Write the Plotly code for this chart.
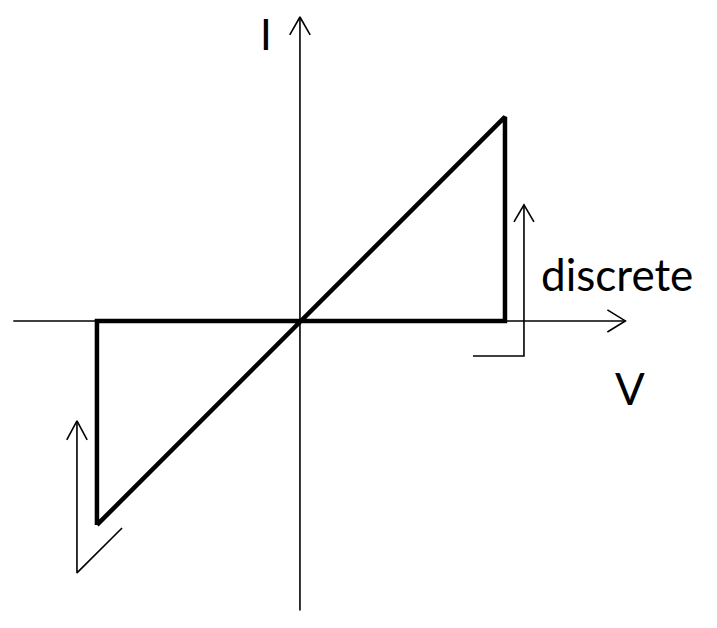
import plotly.graph_objects as go

# I-V characteristic (normalised units)
# thick path: diagonal, right drop, zero line, left drop
v_path = [-1.0, 1.0, 1.0, -1.0, -1.0]
i_path = [-1.0, 1.0, 0.0, 0.0, -1.0]

axis_labels = ["V", "I"]
note_label = "discrete"

# axis extents
x_axis_min, x_axis_max = -1.41, 1.59
y_axis_min, y_axis_max = -1.42, 1.49
head_len, head_half = 0.088, 0.054

fig = go.Figure()

def line(xs, ys, w):
    fig.add_trace(go.Scatter(x=xs, y=ys, mode="lines",
                             line=dict(color="black", width=w),
                             hoverinfo="skip", showlegend=False))

# axes
line([x_axis_min, x_axis_max], [0, 0], 1.6)
line([x_axis_max - head_len, x_axis_max, x_axis_max - head_len],
     [head_half, 0, -head_half], 1.6)
line([-0.005, -0.005], [y_axis_min, y_axis_max], 1.6)
line([-0.005 - 0.05, -0.005, -0.005 + 0.05],
     [y_axis_max - head_len, y_axis_max, y_axis_max - head_len], 1.6)

# characteristic
line(v_path, i_path, 4.5)

# right annotation arrow
rx, rtop, rbot, rleft = 1.093, 0.569, -0.172, 0.843
line([rleft, rx, rx], [rbot, rbot, rtop], 1.6)
line([rx - 0.049, rx, rx + 0.049], [rtop - 0.083, rtop, rtop - 0.083], 1.6)

# left annotation arrow
lx, ltop, lbot = -1.098, -0.49, -1.235
line([-0.877, lx, lx], [-1.015, lbot, ltop], 1.6)
line([lx - 0.05, lx, lx + 0.05], [ltop - 0.093, ltop, ltop - 0.093], 1.6)

font = dict(family="Lato, Liberation Sans, sans-serif", size=44, color="black")
fig.add_annotation(x=-0.172, y=1.534, yanchor="top", yref="y", text=axis_labels[1],
                   showarrow=False, font=dict(font, size=42), borderpad=0)
fig.add_annotation(x=1.613, y=-0.33, text=axis_labels[0], showarrow=False, font=font)
fig.add_annotation(x=1.547, y=0.23, text=note_label, showarrow=False, font=font)

fig.update_layout(
    width=701, height=612,
    margin=dict(l=0, r=0, t=0, b=0),
    paper_bgcolor="white", plot_bgcolor="white",
    xaxis=dict(range=[-1.436, 2.0], visible=False, fixedrange=True),
    yaxis=dict(range=[-1.466, 1.534], visible=False, fixedrange=True),
)

fig.write_html("out.html")
